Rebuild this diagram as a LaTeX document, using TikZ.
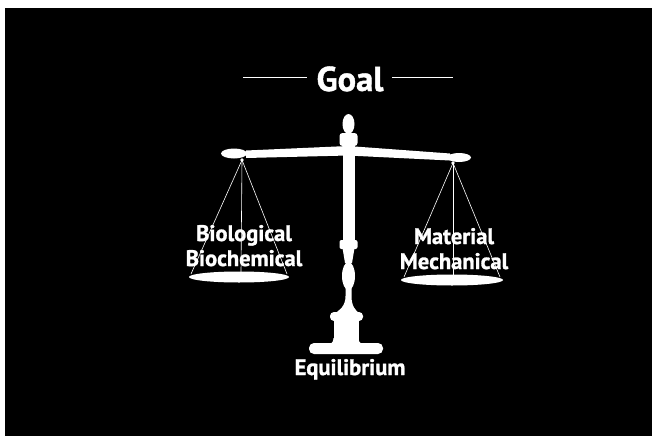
\documentclass[tikz,border=0pt]{standalone}
\usepackage{fontspec}
\setmainfont{PT Sans}[BoldFeatures={FakeBold=1.2}]
\tikzset{
  scale part/.style={fill=white,draw=none},
  string/.style={draw=white,line width=0.6pt},
  rule line/.style={draw=white,line width=0.8pt},
  title text/.style={font=\fontsize{34.5}{38}\selectfont\bfseries,text=white,anchor=base,inner sep=0pt},
  pan text/.style={font=\fontsize{22.5}{25}\selectfont\bfseries,text=white,anchor=base,inner sep=0pt},
}
\begin{document}
\begin{tikzpicture}[x=1pt,y=-1pt]
  \useasboundingbox (0,0) rectangle (652,436);
  \fill[white] (0,0) rectangle (652,436);
  \fill[black] (5,8) rectangle (652,436);

  % heading with rules
  \node[title text] (goal) at (350,91) {Goal};
  \coordinate (ruleLa) at (243,77.5);
  \coordinate (ruleLb) at (307,77.5);
  \coordinate (ruleRa) at (392,77.5);
  \coordinate (ruleRb) at (453,77.5);
  \draw[rule line] (ruleLa) -- (ruleLb);
  \draw[rule line] (ruleRa) -- (ruleRb);

  % beam
  \fill[scale part] (246,150.5) -- (348,146) -- (450,153.5) -- (450,160.5) -- (348,155.5) -- (246,158) -- cycle;
  \fill[scale part] (234,153.5) ellipse [x radius=13,y radius=5];
  \fill[scale part] (459,157.5) ellipse [x radius=12,y radius=4.5];

  % column, top to bottom
  \fill[scale part] (348.5,124) ellipse [x radius=6,y radius=10];
  \fill[scale part,rounded corners=3pt] (339.5,133) rectangle (357.5,146);
  \fill[scale part] (342.5,144) rectangle (354.5,242);
  \fill[scale part,rounded corners=2pt] (339.5,240) rectangle (357.5,249);
  \fill[scale part] (342.5,248) -- (345,263) -- (352,263) -- (354.5,248) -- cycle;
  \fill[scale part] (348.5,276) ellipse [x radius=6.5,y radius=14];
  \fill[scale part] (345.5,287) -- (345.5,296) .. controls (345.5,306) and (340,310) .. (334,314)
    -- (360,314) .. controls (355,310) and (351.5,306) .. (351.5,296) -- (351.5,287) -- cycle;
  \fill[scale part,rounded corners=4pt] (330,312) rectangle (363,321);
  \fill[scale part] (333.5,320) rectangle (358.5,341);
  \fill[scale part] (333.5,338) .. controls (333,342) .. (328,346) -- (364,346) .. controls (359,342) .. (358.5,338) -- cycle;
  \fill[scale part,rounded corners=5pt] (309,343) rectangle (383,354);

  % hangers, pans and strings
  \coordinate (hangL) at (242,160);
  \coordinate (hangR) at (453,163);
  \fill[scale part] (hangL) circle [radius=1.8];
  \fill[scale part] (hangR) circle [radius=1.8];
  \fill[scale part] (239,277) ellipse [x radius=50,y radius=5.5];
  \fill[scale part] (452,280) ellipse [x radius=51,y radius=5.5];
  \coordinate (panLa) at (191,274);
  \coordinate (panLb) at (241,272);
  \coordinate (panLc) at (287,274);
  \coordinate (panRa) at (404,277);
  \coordinate (panRb) at (453,275);
  \coordinate (panRc) at (500,277);
  \foreach \p in {panLa,panLb,panLc} \draw[string] (hangL) -- (\p);
  \foreach \p in {panRa,panRb,panRc} \draw[string] (hangR) -- (\p);

  % labels
  \node[pan text] (bio) at (244,241) {Biological};
  \node[pan text] (biochem) at (244,266) {Biochemical};
  \node[pan text] (material) at (454,244) {Material};
  \node[pan text] (mech) at (454,269) {Mechanical};
  \node[pan text] (equil) at (350,375) {Equilibrium};
\end{tikzpicture}
\end{document}
